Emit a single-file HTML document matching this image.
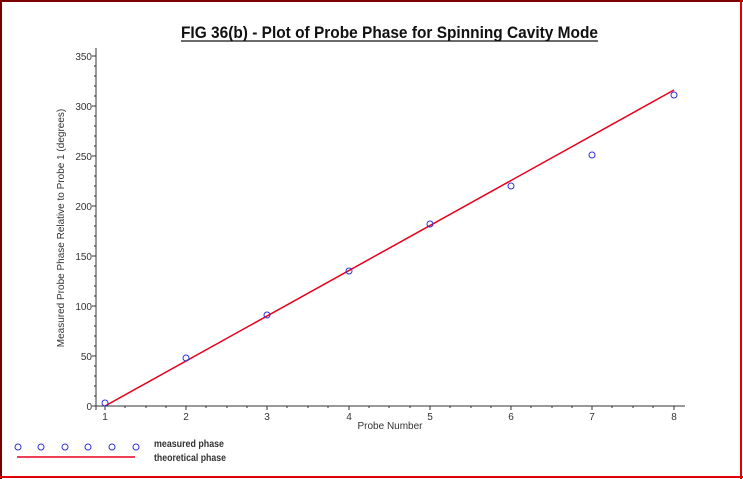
<!DOCTYPE html>
<html><head><style>
html,body{margin:0;padding:0;background:#fff;}
body{width:743px;height:479px;overflow:hidden;position:relative;}
</style></head><body>
<svg width="743" height="479" viewBox="0 0 743 479" xmlns="http://www.w3.org/2000/svg" style="position:absolute;left:0;top:0">
<rect x="0" y="0" width="743" height="479" fill="#fff"/>
<rect x="0" y="0" width="743" height="2" fill="#7a0000"/>
<rect x="0" y="0" width="2" height="479" fill="#7a0000"/>
<rect x="740" y="0" width="2" height="479" fill="#e00000"/>
<rect x="0" y="476" width="743" height="2" fill="#e00000"/>
<text x="181" y="38" textLength="417" lengthAdjust="spacingAndGlyphs" font-family="Liberation Sans, sans-serif" font-weight="bold" font-size="17" fill="#111">FIG 36(b)  - Plot of Probe Phase for Spinning Cavity Mode</text>
<line x1="181" y1="41" x2="598" y2="41" stroke="#111" stroke-width="1.3"/>
<g stroke="#333" stroke-width="1">
<line x1="96" y1="48" x2="96" y2="410"/>
<line x1="92" y1="406" x2="685" y2="406"/>
</g>
<g font-family="Liberation Sans, sans-serif" font-size="10" fill="#333" text-anchor="end">
<text x="92" y="410">0</text>
<text x="92" y="360">50</text>
<text x="92" y="310">100</text>
<text x="92" y="260">150</text>
<text x="92" y="210">200</text>
<text x="92" y="160">250</text>
<text x="92" y="110">300</text>
<text x="92" y="60">350</text>
</g>
<g font-family="Liberation Sans, sans-serif" font-size="10" fill="#333" text-anchor="middle">
<text x="105" y="420">1</text><text x="186" y="420">2</text><text x="267" y="420">3</text><text x="349" y="420">4</text>
<text x="430" y="420">5</text><text x="511" y="420">6</text><text x="592" y="420">7</text><text x="674" y="420">8</text>
<text x="390" y="429">Probe Number</text>
<text transform="translate(64,228) rotate(-90)">Measured Probe Phase Relative to Probe 1 (degrees)</text>
</g>
<path stroke="#333" stroke-width="1" fill="none" d="
M92 406H96 M92 356H96 M92 306H96 M92 256H96 M92 206H96 M92 156H96 M92 106H96 M92 56H96
M94 396H96 M94 386H96 M94 376H96 M94 366H96 M94 346H96 M94 336H96 M94 326H96 M94 316H96
M94 296H96 M94 286H96 M94 276H96 M94 266H96 M94 246H96 M94 236H96 M94 226H96 M94 216H96
M94 196H96 M94 186H96 M94 176H96 M94 166H96 M94 146H96 M94 136H96 M94 126H96 M94 116H96
M94 96H96 M94 86H96 M94 76H96 M94 66H96
M105 406V410 M186 406V410 M267 406V410 M349 406V410 M430 406V410 M511 406V410 M592 406V410 M674 406V410
M125 406V408 M146 406V408 M166 406V408 M206 406V408 M227 406V408 M247 406V408 M287 406V408 M308 406V408 M328 406V408
M369 406V408 M389 406V408 M410 406V408 M450 406V408 M471 406V408 M491 406V408 M531 406V408 M552 406V408 M572 406V408
M612 406V408 M633 406V408 M653 406V408"/>
<line x1="105" y1="406" x2="674" y2="90" stroke="#e8001c" stroke-width="1.5"/>
<g fill="none" stroke="#3030d0" stroke-width="1">
<circle cx="105" cy="403" r="3"/><circle cx="186" cy="358" r="3"/><circle cx="267" cy="315" r="3"/>
<circle cx="349" cy="271" r="3"/><circle cx="430" cy="224" r="3"/><circle cx="511" cy="186" r="3"/>
<circle cx="592" cy="155" r="3"/><circle cx="674" cy="95" r="3"/>
<circle cx="18" cy="447" r="3"/><circle cx="41" cy="447" r="3"/><circle cx="65" cy="447" r="3"/>
<circle cx="88" cy="447" r="3"/><circle cx="112" cy="447" r="3"/><circle cx="136" cy="447" r="3"/>
</g>
<line x1="17" y1="457" x2="135" y2="457" stroke="#e8001c" stroke-width="1.5"/>
<g font-family="Liberation Sans, sans-serif" font-weight="bold" font-size="10" fill="#333">
<text x="154" y="447" textLength="70" lengthAdjust="spacingAndGlyphs">measured phase</text>
<text x="154" y="461" textLength="72" lengthAdjust="spacingAndGlyphs">theoretical phase</text>
</g>
</svg>
</body></html>
